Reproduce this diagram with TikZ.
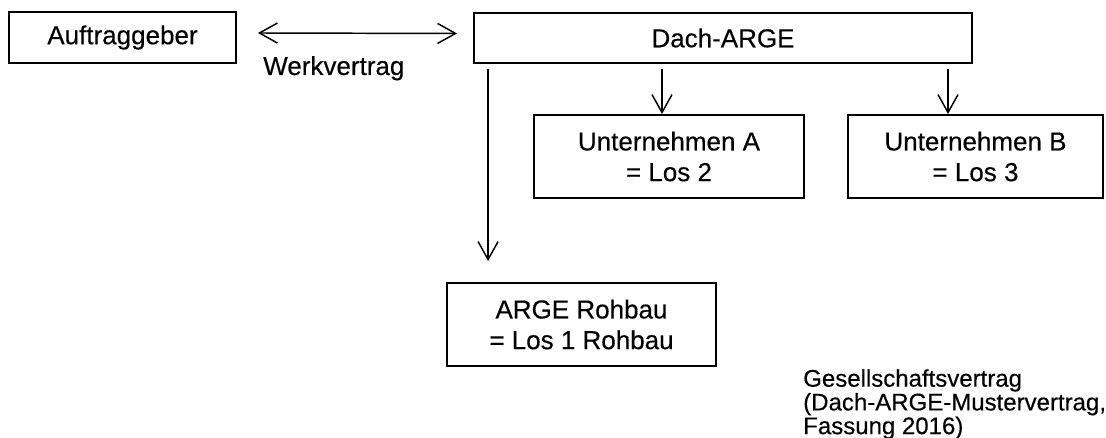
\documentclass[tikz,border=0pt]{standalone}
\usepackage{fontspec}
\setmainfont[FakeBold=0.35]{Liberation Sans}
\usetikzlibrary{arrows.meta,calc}

\begin{document}
\begin{tikzpicture}[x=0.75pt,y=-0.75pt,
        >={Straight Barb[length=13.5pt,width=15pt]},
        box/.style={draw, line width=1.4pt, rectangle, align=center, inner sep=0pt,
            font=\fontsize{19.5}{23}\selectfont},
        verbindung/.style={line width=1.1pt}]
        \useasboundingbox (0,0) rectangle (1106,438);

        % Draw the boxes
        \node[box, minimum width=170.25pt, minimum height=38.25pt] (auftraggeber) at (122.5,37.5) {Auftraggeber};
        \node[box, minimum width=373.5pt, minimum height=37.5pt] (dach) at (723,38) {Dach-ARGE};
        \node[box, minimum width=202.5pt, minimum height=62.25pt] (unternA) at (669,156.5) {Unternehmen A\\= Los 2};
        \node[box, minimum width=191.25pt, minimum height=62.25pt] (unternB) at (975.5,156.5) {Unternehmen B\\= Los 3};
        \node[box, minimum width=201.75pt, minimum height=62.25pt] (rohbau) at (581.5,324.5) {ARGE Rohbau\\= Los 1 Rohbau};

        % Werkvertrag between client and Dach-ARGE
        \draw[verbindung, <->] ($(auftraggeber.east)+(21,-4.5)$) -- ($(dach.west)+(-16,-4.5)$);
        \node[anchor=base west, inner sep=0pt, font=\fontsize{19.5}{23}\selectfont] (werkvertrag) at (263,75) {Werkvertrag};

        % Arrows down to the members
        \draw[verbindung, ->] ($(dach.south west)+(15,5)$) -- ($(dach.south west |- rohbau.north)+(15,-21)$);
        \foreach \ziel/\dx in {unternA/-7, unternB/-27.5}
        \draw[verbindung, ->] ($(dach.south -| \ziel.north)+(\dx,5)$) -- ($(\ziel.north)+(\dx,0)$);

        % Contract note
        \node[anchor=north west, inner sep=0pt, align=left, font=\fontsize{18}{17.8}\selectfont] (gesvertrag) at (803,369)
            {Gesellschaftsvertrag\\(Dach-ARGE-Mustervertrag,\\Fassung 2016)};
\end{tikzpicture}
\end{document}
